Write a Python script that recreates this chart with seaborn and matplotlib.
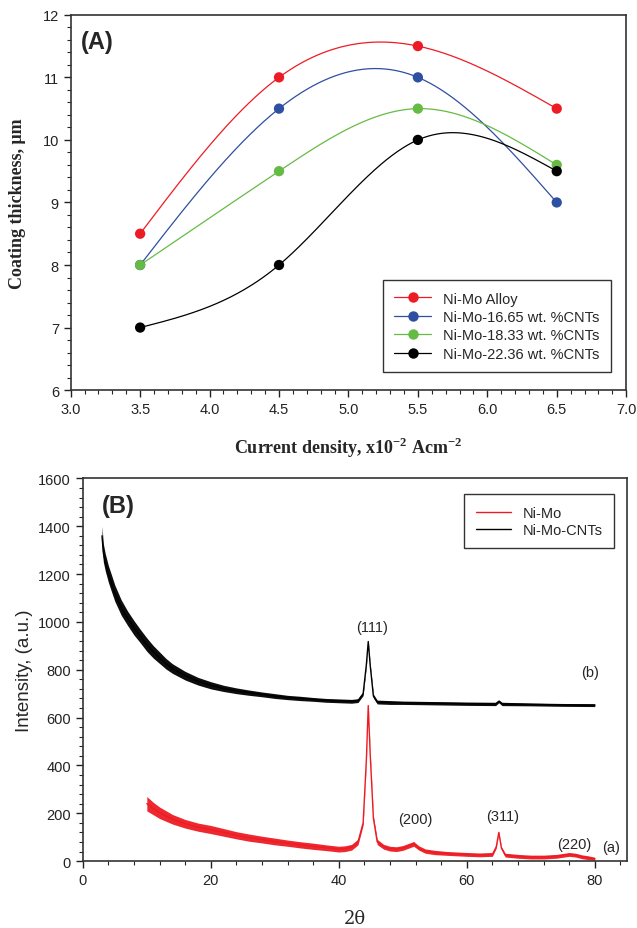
import numpy as np
import seaborn as sb
import matplotlib.pyplot as plt
from matplotlib.lines import Line2D
from matplotlib.ticker import MultipleLocator

sb.set_style('ticks')
plt.rcParams['font.family'] = ['Liberation Sans', 'DejaVu Sans']
plt.rcParams['mathtext.fontset'] = 'custom'
plt.rcParams['mathtext.rm'] = 'Liberation Serif:bold'
plt.rcParams['mathtext.bf'] = 'Liberation Serif:bold'

### Panel A data
current = [3.5, 4.5, 5.5, 6.5]
nimo_alloy = [8.5, 11.0, 11.5, 10.5]
cnt_1665 = [8.0, 10.5, 11.0, 9.0]
cnt_1833 = [8.0, 9.5, 10.5, 9.6]
cnt_2236 = [7.0, 8.0, 10.0, 9.5]
series_a = [('Ni-Mo Alloy', nimo_alloy, '#ED1C24'),
            ('Ni-Mo-16.65 wt. %CNTs', cnt_1665, '#2F4FA2'),
            ('Ni-Mo-18.33 wt. %CNTs', cnt_1833, '#66BB44'),
            ('Ni-Mo-22.36 wt. %CNTs', cnt_2236, '#000000')]

### Panel B data + noise band half widths
tt_red = [10, 11, 12, 14, 16, 18, 20, 22, 24, 26, 28, 30, 32, 34, 36, 38, 40, 41, 42, 43,
          43.8, 44.3, 44.6, 44.9, 45.4, 46, 47, 48, 49, 50, 51, 51.7, 52.5, 53.5, 55, 57,
          60, 62, 64, 64.6, 65.0, 65.4, 66, 68, 70, 72, 74, 76, 77, 78, 79, 80]
i_red = [240, 220, 202, 175, 156, 142, 132, 120, 108, 98, 90, 82, 75, 68, 62, 56, 50, 52, 58, 80,
         160, 420, 650, 450, 180, 80, 60, 52, 50, 55, 65, 72, 55, 42, 36, 32,
         28, 26, 28, 60, 120, 55, 25, 20, 17, 17, 20, 28, 25, 18, 14, 10]
hw_red = [30, 26, 24, 20, 18, 17, 17, 16, 15, 15, 14, 14, 13, 13, 13, 12, 12, 12, 12, 12,
          10, 8, 4, 8, 10, 11, 10, 10, 10, 10, 10, 10, 9, 9, 9, 8,
          8, 8, 8, 6, 3, 6, 8, 8, 8, 8, 8, 8, 8, 8, 8, 6]

tt_blk = [3.0, 3.2, 3.5, 4, 4.5, 5, 6, 7, 8, 9, 10, 11, 12, 13, 14, 16, 18, 20, 22, 24, 26, 28,
          30, 32, 34, 36, 38, 40, 42, 43, 43.8, 44.3, 44.6, 44.9, 45.4, 46, 48, 50, 55, 60,
          64.5, 65, 65.5, 70, 75, 80]
i_blk = [1360, 1290, 1250, 1200, 1160, 1120, 1060, 1015, 975, 940, 905, 875, 850, 825, 805, 775,
         752, 735, 722, 712, 704, 697, 690, 684, 680, 676, 672, 670, 668, 671, 700, 820, 918,
         820, 690, 665, 663, 662, 660, 658, 657, 668, 657, 655, 653, 652]
hw_blk = [40, 38, 36, 35, 35, 34, 32, 30, 30, 28, 28, 26, 24, 22, 20, 18, 16, 15, 13, 12, 11, 10,
          10, 9, 9, 8, 8, 8, 8, 8, 8, 6, 4, 6, 8, 8, 8, 7, 7, 7, 7, 6, 7, 6, 6, 6]

peak_labels = [('(111)', 45.2, 980), ('(b)', 79.2, 790), ('(200)', 52.0, 175),
               ('(311)', 65.6, 190), ('(220)', 76.8, 70), ('(a)', 82.6, 60)]


def naturalSpline(xs, ys, n=300):
    # natural cubic spline through the measured points, to mimic the smooth curve
    xs = np.asarray(xs, float)
    ys = np.asarray(ys, float)
    k = len(xs)
    h = np.diff(xs)
    A = np.zeros((k, k))
    r = np.zeros(k)
    A[0, 0] = A[-1, -1] = 1
    for i in range(1, k - 1):
        A[i, i - 1] = h[i - 1]
        A[i, i] = 2 * (h[i - 1] + h[i])
        A[i, i + 1] = h[i]
        r[i] = 6 * ((ys[i + 1] - ys[i]) / h[i] - (ys[i] - ys[i - 1]) / h[i - 1])
    M = np.linalg.solve(A, r)
    xx = np.linspace(xs[0], xs[-1], n)
    idx = np.clip(np.searchsorted(xs, xx) - 1, 0, k - 2)
    x0, x1 = xs[idx], xs[idx + 1]
    hh = x1 - x0
    a = (x1 - xx) / hh
    b = (xx - x0) / hh
    yy = (a * ys[idx] + b * ys[idx + 1]
          + ((a ** 3 - a) * M[idx] + (b ** 3 - b) * M[idx + 1]) * hh ** 2 / 6)
    return xx, yy


fig = plt.figure(figsize=(6.37, 9.29), dpi=100)
axA = fig.add_axes([0.111, 0.579, 0.872, 0.404])
axB = fig.add_axes([0.130, 0.072, 0.854, 0.412])

# ---------------- Panel A
handles = []
for name, vals, col in series_a:
    xx, yy = naturalSpline(current, vals)
    axA.plot(xx, yy, color=col, lw=0.9)
    sb.scatterplot(x=current, y=vals, color=col, s=55, edgecolor='none', ax=axA, zorder=3)
    handles.append(Line2D([], [], color=col, lw=0.9, marker='o', markersize=7.5,
                          markeredgewidth=0, label=name))

axA.set_xlim(3.0, 7.0)
axA.set_ylim(6, 12)
axA.xaxis.set_minor_locator(MultipleLocator(0.1))
axA.yaxis.set_major_locator(MultipleLocator(1))
axA.yaxis.set_minor_locator(MultipleLocator(0.2))
axA.set_xticks(np.arange(3.0, 7.01, 0.5))
axA.set_xticklabels([f'{v:.1f}' for v in np.arange(3.0, 7.01, 0.5)])
axA.set_xlabel(r'Current density, x10$^{-2}$ Acm$^{-2}$', family='Liberation Serif',
               fontweight='bold', fontsize=13, labelpad=14)
axA.set_ylabel('Coating thickness, μm', family='Liberation Serif', fontweight='bold',
               fontsize=13, labelpad=12)
axA.text(0.018, 0.93, '(A)', transform=axA.transAxes, fontsize=17, fontweight='bold',
         va='center', ha='left')
legA = axA.legend(handles=handles, loc='lower right', bbox_to_anchor=(0.985, 0.028),
                  fontsize=10.5, frameon=True, fancybox=False, edgecolor='black',
                  handlelength=2.5, borderpad=0.8, labelspacing=0.3)
legA.get_frame().set_linewidth(1.0)

# ---------------- Panel B
for tt, inten, hw, col, name in [(tt_red, i_red, hw_red, '#ED1C24', 'Ni-Mo'),
                                 (tt_blk, i_blk, hw_blk, '#000000', 'Ni-Mo-CNTs')]:
    tt = np.asarray(tt)
    inten = np.asarray(inten)
    hw = np.asarray(hw)
    axB.fill_between(tt, inten - hw, inten + hw, color=col, lw=0, alpha=0.95)
    sb.lineplot(x=tt, y=inten, color=col, lw=1.0, sort=False, estimator=None,
                ax=axB, label=name)

for txt, x, y in peak_labels:
    axB.text(x, y, txt, fontsize=10.5, ha='center', va='center')
axB.text(0.035, 0.93, '(B)', transform=axB.transAxes, fontsize=17, fontweight='bold',
         va='center', ha='left')

axB.set_xlim(0, 85)
axB.set_ylim(0, 1600)
axB.xaxis.set_major_locator(MultipleLocator(20))
axB.xaxis.set_minor_locator(MultipleLocator(4))
axB.yaxis.set_major_locator(MultipleLocator(200))
axB.yaxis.set_minor_locator(MultipleLocator(40))
axB.set_xlabel('2θ', fontsize=13, family='DejaVu Serif', labelpad=16)
axB.set_ylabel('Intensity, (a.u.)', fontsize=13.5, labelpad=4)
legB = axB.legend(loc='upper right', bbox_to_anchor=(0.99, 0.978), fontsize=10.5,
                  frameon=True, fancybox=False, edgecolor='black', handlelength=2.4,
                  borderpad=0.8, labelspacing=0.2)
legB.get_frame().set_linewidth(1.0)

for ax in (axA, axB):
    for s in ax.spines.values():
        s.set_visible(True)
        s.set_color('#333333')
        s.set_linewidth(1.2)
    ax.tick_params(which='major', direction='out', length=5, width=1, labelsize=10.5,
                   colors='#222222')
    ax.tick_params(which='minor', direction='out', length=3, width=0.8)

plt.savefig('out.png', dpi=100)
